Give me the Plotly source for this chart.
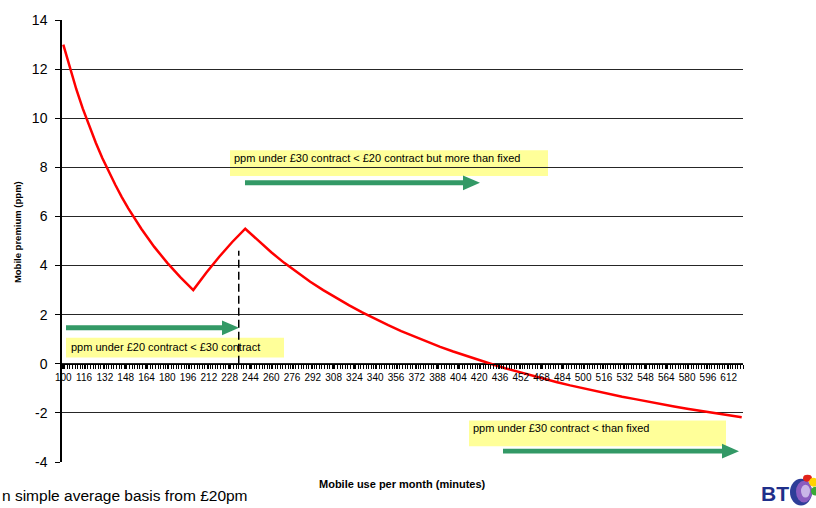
import plotly.graph_objects as go

# Monthly minutes of mobile use and the resulting premium per minute (ppm)
minutes = [100, 105, 110, 115, 120, 125, 130, 135, 140, 145, 150, 160, 170, 180, 190, 200,
           210, 220, 230, 240, 250, 260, 270, 280, 290, 300, 310, 320, 330, 340, 350, 360,
           370, 380, 390, 400, 410, 420, 430, 440, 450, 460, 470, 480, 490, 500, 510, 520,
           530, 540, 550, 560, 570, 580, 590, 600, 610, 622]
premium = [13.00, 12.05, 11.18, 10.39, 9.67, 9.00, 8.38, 7.81, 7.29, 6.79, 6.33, 5.50, 4.76, 4.11, 3.53, 3.00,
           3.71, 4.36, 4.96, 5.50, 5.00, 4.54, 4.11, 3.71, 3.34, 3.00, 2.68, 2.38, 2.09, 1.82, 1.57, 1.33,
           1.11, 0.89, 0.69, 0.50, 0.32, 0.14, -0.02, -0.18, -0.33, -0.48, -0.62, -0.75, -0.88, -1.00, -1.12, -1.23,
           -1.34, -1.44, -1.55, -1.64, -1.74, -1.83, -1.92, -2.00, -2.08, -2.18]

# Switch-over point between the £20 and £30 contracts
switch_minutes = [235, 235]
switch_premium = [0, 4.6]

x_tick_labels = [100, 116, 132, 148, 164, 180, 196, 212, 228, 244, 260, 276, 292, 308, 324, 340,
                 356, 372, 388, 404, 420, 436, 452, 468, 484, 500, 516, 532, 548, 564, 580, 596, 612]
y_tick_labels = [-4, -2, 0, 2, 4, 6, 8, 10, 12, 14]

notes = [
    "ppm under £30 contract < £20 contract but more than fixed",
    "ppm under £20 contract < £30 contract",
    "ppm under £30 contract < than fixed",
]

FONT = "Liberation Sans, Arial, sans-serif"
W, H = 816, 508
PL, PR, PT, PB = 62, 743, 14, 462


def px(x):
    return (x - PL) / (PR - PL)


def py(y):
    return (PB - y) / (PB - PT)


def arrow_path(x0, x1, yc, shaft=2.5, head=7.5, hl=17):
    pts = [(x0, yc - shaft), (x1 - hl, yc - shaft), (x1 - hl, yc - head), (x1, yc),
           (x1 - hl, yc + head), (x1 - hl, yc + shaft), (x0, yc + shaft)]
    return "M " + " L ".join(f"{px(a):.5f},{py(b):.5f}" for a, b in pts) + " Z"


fig = go.Figure()

fig.add_trace(go.Scatter(
    x=switch_minutes, y=switch_premium, mode="lines",
    line=dict(color="black", width=1.5, dash="8px,4px"),
    hoverinfo="skip", showlegend=False,
))
fig.add_trace(go.Scatter(
    x=minutes, y=premium, mode="lines",
    line=dict(color="#ff0000", width=2.5),
    showlegend=False,
))

shapes = []
# yellow note boxes
for (x0, x1, y0, y1) in [(230, 548, 146, 172), (66, 284, 336, 356), (469, 726, 420, 446)]:
    shapes.append(dict(type="rect", xref="paper", yref="paper",
                       x0=px(x0), x1=px(x1), y0=py(y1), y1=py(y0),
                       fillcolor="#ffff99", line=dict(width=0), layer="between"))
# green arrows
for (x0, x1, yc) in [(245, 480, 179), (66, 239, 326), (503, 739, 451)]:
    shapes.append(dict(type="path", xref="paper", yref="paper", path=arrow_path(x0, x1, yc),
                       fillcolor="#339966", line=dict(width=0), layer="between"))

# BT piper logo (simplified globe)
shapes += [
    dict(type="circle", xref="paper", yref="paper", x0=px(790), x1=px(812), y0=py(506), y1=py(479),
         fillcolor="#2e3d98", line=dict(width=0)),
    dict(type="circle", xref="paper", yref="paper", x0=px(796), x1=px(812), y0=py(503), y1=py(481),
         fillcolor="#8a5cc0", line=dict(width=0)),
    dict(type="circle", xref="paper", yref="paper", x0=px(801), x1=px(810), y0=py(498), y1=py(485),
         fillcolor="#c9b6e8", line=dict(width=0)),
    dict(type="circle", xref="paper", yref="paper", x0=px(803), x1=px(812), y0=py(482), y1=py(475),
         fillcolor="#e2231a", line=dict(width=0)),
    dict(type="circle", xref="paper", yref="paper", x0=px(809), x1=px(818), y0=py(487), y1=py(478),
         fillcolor="#ffd200", line=dict(width=0)),
    dict(type="circle", xref="paper", yref="paper", x0=px(811), x1=px(820), y0=py(496), y1=py(487),
         fillcolor="#3aaa35", line=dict(width=0)),
]

annotations = [
    dict(text=notes[0], xref="paper", yref="paper", x=px(232), y=py(154),
         xanchor="left", yanchor="middle", showarrow=False, font=dict(size=11, color="black")),
    dict(text=notes[1], xref="paper", yref="paper", x=px(69), y=py(345),
         xanchor="left", yanchor="middle", showarrow=False, font=dict(size=11, color="black")),
    dict(text=notes[2], xref="paper", yref="paper", x=px(471), y=py(428),
         xanchor="left", yanchor="middle", showarrow=False, font=dict(size=11, color="black")),
    dict(text="<b>Mobile use per month (minutes)</b>", xref="paper", yref="paper",
         x=0.5, y=py(484), xanchor="center", yanchor="middle", showarrow=False,
         font=dict(size=11, color="black")),
    dict(text="<b>Mobile premium (ppm)</b>", xref="paper", yref="paper",
         x=px(17), y=py(229), xanchor="center", yanchor="middle", showarrow=False,
         textangle=-90, font=dict(size=9.5, color="black")),
    dict(text="n simple average basis from £20pm", xref="paper", yref="paper",
         x=px(0), y=py(496), xanchor="left", yanchor="middle", showarrow=False,
         font=dict(size=15.5, color="black")),
    dict(text="<b>BT</b>", xref="paper", yref="paper",
         x=px(791), y=py(494), xanchor="right", yanchor="middle", showarrow=False,
         font=dict(size=21, color="#1f2f8a", family="Liberation Sans, Arial, sans-serif")),
]

fig.update_layout(
    width=W, height=H,
    margin=dict(l=PL, r=W - PR, t=PT, b=H - PB, pad=0),
    paper_bgcolor="white", plot_bgcolor="white",
    font=dict(family=FONT, color="black"),
    shapes=shapes,
    annotations=annotations,
    xaxis=dict(
        range=[99, 623], anchor="free", position=4 / 18,
        showgrid=False, zeroline=False,
        showline=True, linecolor="black", linewidth=1,
        tickmode="array", tickvals=x_tick_labels, ticktext=[str(v) for v in x_tick_labels],
        ticks="outside", ticklen=4, tickwidth=1, tickcolor="black",
        tickfont=dict(size=10, color="black"),
        minor=dict(tick0=99, dtick=2, ticks="outside", ticklen=4, tickwidth=1, tickcolor="black"),
        fixedrange=True,
    ),
    yaxis=dict(
        range=[-4, 14], domain=[0, 1],
        tickmode="array", tickvals=y_tick_labels, ticktext=[str(v) for v in y_tick_labels],
        showgrid=True, gridcolor="#262626", gridwidth=1,
        zeroline=False,
        showline=True, linecolor="black", linewidth=1.5,
        ticks="outside", ticklen=5, tickcolor="black",
        ticklabelstandoff=5,
        tickfont=dict(size=14, color="black"),
        fixedrange=True,
    ),
)

fig.write_html("out.html")
